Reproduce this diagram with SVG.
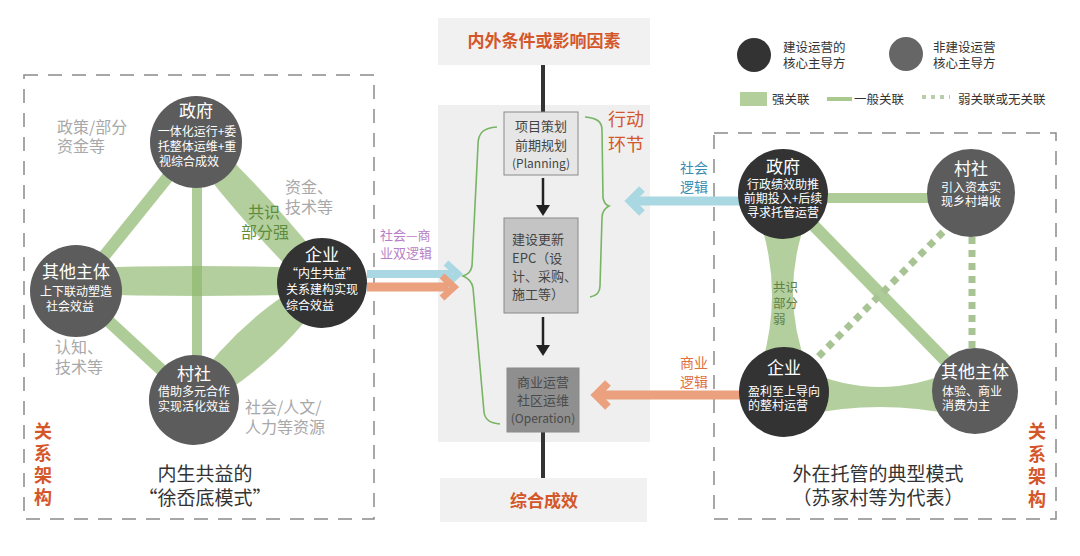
<svg xmlns="http://www.w3.org/2000/svg" width="1080" height="556" viewBox="0 0 1080 556">
<defs>
<style>
text{font-family:"Noto Sans CJK SC","Noto Sans",sans-serif;}
.dash{fill:none;stroke:#8a8a8a;stroke-width:1.5;stroke-dasharray:14 10;}
.gen{stroke:#8fb86f;stroke-opacity:0.72;fill:none;}
.str{fill:#8fb86f;fill-opacity:0.68;}
.dot{stroke:#a8c494;stroke-width:7;stroke-dasharray:7 6;fill:none;}
.dk{fill:#333;}
.gy{fill:#5c5c5c;}
.nt{fill:#fff;text-anchor:middle;font-size:12px;}
.t1{font-size:17px;}
.ann{fill:#a8a8a8;font-size:16px;}
.or{fill:#d4572a;font-weight:bold;}
.box{stroke:#8a8a8a;stroke-width:1;}
.bt{fill:#444;font-size:13px;text-anchor:middle;}
.brace{fill:none;stroke:#78b463;stroke-width:1.6;}
.leg{fill:#333;font-size:12.5px;}
</style>
</defs>
<rect width="1080" height="556" fill="#fff"/>

<!-- frames -->
<rect class="dash" x="24" y="75" width="350" height="444"/>
<rect class="dash" x="714" y="133" width="342" height="386"/>

<!-- middle column -->
<g id="mid-panel">
<rect x="438" y="18" width="212" height="47" fill="#f1f1f1"/>
<text class="or" x="544" y="47" font-size="17" text-anchor="middle">内外条件或影响因素</text>
<rect x="438" y="105" width="212" height="337" fill="#efefef"/>
<rect x="440" y="478" width="207" height="44" fill="#f1f1f1"/>
<text class="or" x="544" y="507" font-size="17" text-anchor="middle">综合成效</text>
<text font-size="18" fill="#d4572a"><tspan x="608" y="126">行动</tspan><tspan x="608" y="151">环节</tspan></text>
</g>

<g id="connectors">
<!-- middle flow -->
<line x1="543" y1="65" x2="543" y2="112" stroke="#333" stroke-width="4"/>
<line x1="543" y1="432" x2="543" y2="478" stroke="#333" stroke-width="4"/>
<line x1="543" y1="178" x2="543" y2="206" stroke="#222" stroke-width="2.5"/>
<polygon points="536,205 550,205 543,216" fill="#222"/>
<line x1="543" y1="317" x2="543" y2="346" stroke="#222" stroke-width="2.5"/>
<polygon points="536,345 550,345 543,356" fill="#222"/>
<path class="brace" d="M497,127 C484,128 478,132 478,145 L472,266 C471,272 468,274 463,276 C468,278 472,281 473,288 L484,412 C485,420 490,423 500,424"/>
<path class="brace" d="M585,117 C596,118 602,121 602,130 L603,198 C604,203 606,205 609,206 C605,208 602,211 602,218 L600,286 C600,293 596,296 590,297"/>

<!-- left relations -->
<line class="gen" x1="196" y1="142" x2="76" y2="291" stroke-width="12"/>
<line class="gen" x1="76" y1="291" x2="194" y2="400" stroke-width="12"/>
<line class="gen" x1="197" y1="142" x2="197" y2="400" stroke-width="10"/>
<path class="str" d="M187,150 Q244,225 312,292 L332,274 Q274,199 205,134 Z"/>
<path class="str" d="M76,268 Q198,264 322,268 L322,294 Q198,298 76,294 Z"/>
<path class="str" d="M187,393 Q238,319 315,276 L329,290 Q278,364 201,407 Z"/>

<!-- right relations -->
<line class="gen" x1="783" y1="198" x2="971" y2="198" stroke-width="10"/>
<line class="gen" x1="783" y1="194" x2="975" y2="391" stroke-width="12"/>
<line class="dot" x1="943" y1="232" x2="817" y2="358"/>
<line class="dot" x1="972" y1="237" x2="972" y2="350"/>
<path class="str" d="M758,215 Q785,292 760,370 L808,370 Q778,292 808,215 Z"/>
<path class="str" d="M805,370 Q880,404 955,370 L955,415 Q880,399 805,415 Z"/>

<!-- logic arrows -->
<line x1="367" y1="274" x2="452" y2="274" stroke="#a9d8e2" stroke-width="8"/>
<polyline points="446,263 458,274 446,285" fill="none" stroke="#a9d8e2" stroke-width="7"/>
<line x1="367" y1="287" x2="448" y2="287" stroke="#eba07e" stroke-width="9"/>
<polyline points="442,276 454,287 442,298" fill="none" stroke="#eba07e" stroke-width="7"/>
<line x1="740" y1="201" x2="634" y2="201" stroke="#a9d8e2" stroke-width="9"/>
<polyline points="642,189 630,201 642,213" fill="none" stroke="#a9d8e2" stroke-width="8"/>
<line x1="740" y1="395" x2="600" y2="395" stroke="#eba07e" stroke-width="9"/>
<polyline points="608,383 596,395 608,407" fill="none" stroke="#eba07e" stroke-width="8"/>
</g>

<!-- process boxes -->
<g id="box-planning">
<rect class="box" x="504" y="112" width="74" height="63" fill="#e6e6e6"/>
<text class="bt"><tspan x="541" y="131">项目策划</tspan><tspan x="541" y="150">前期规划</tspan><tspan x="541" y="168" font-size="12">(Planning)</tspan></text>
</g>
<g id="box-epc">
<rect class="box" x="504" y="218" width="74" height="95" fill="#c4c4c4"/>
<text fill="#444" font-size="13"><tspan x="512" y="244">建设更新</tspan><tspan x="512" y="263">EPC（设</tspan><tspan x="512" y="281">计、采购、</tspan><tspan x="512" y="299">施工等）</tspan></text>
</g>
<g id="box-operation">
<rect class="box" x="507" y="368" width="72" height="64" fill="#8f8f8f"/>
<text class="bt" fill="#4a4a4a" style="fill:#4a4a4a"><tspan x="543" y="387">商业运营</tspan><tspan x="543" y="405">社区运维</tspan><tspan x="543" y="423" font-size="12">(Operation)</tspan></text>
</g>

<!-- left nodes -->
<g id="L-gov">
<circle class="gy" cx="196" cy="142" r="46"/>
<text class="nt"><tspan class="t1" x="196" y="117">政府</tspan><tspan x="197" y="136">一体化运行+委</tspan><tspan x="197" y="151">托整体运维+重</tspan><tspan x="189" y="166">视综合成效</tspan></text>
</g>
<g id="L-other">
<circle class="gy" cx="76" cy="291" r="46"/>
<text class="nt"><tspan class="t1" x="76" y="278">其他主体</tspan><tspan x="76" y="296">上下联动塑造</tspan><tspan x="70" y="311">社会效益</tspan></text>
</g>
<g id="L-ent">
<circle class="dk" cx="322" cy="283" r="45"/>
<text class="nt"><tspan class="t1" x="322" y="261">企业</tspan><tspan x="322" y="278">“内生共益”</tspan><tspan x="322" y="294">关系建构实现</tspan><tspan x="310" y="310">综合效益</tspan></text>
</g>
<g id="L-village">
<circle class="gy" cx="194" cy="400" r="45"/>
<text class="nt"><tspan class="t1" x="194" y="380">村社</tspan><tspan x="194" y="396">借助多元合作</tspan><tspan x="194" y="411">实现活化效益</tspan></text>
</g>

<!-- left annotations -->
<g id="L-notes">
<text class="ann"><tspan x="57" y="133">政策/部分</tspan><tspan x="57" y="152">资金等</tspan></text>
<text class="ann"><tspan x="285" y="193">资金、</tspan><tspan x="285" y="213">技术等</tspan></text>
<text class="ann"><tspan x="55" y="353">认知、</tspan><tspan x="55" y="373">技术等</tspan></text>
<text class="ann"><tspan x="245" y="413">社会/人文/</tspan><tspan x="245" y="433">人力等资源</tspan></text>
<text font-size="16" fill="#5d8c3a"><tspan x="248" y="218">共识</tspan><tspan x="241" y="238">部分强</tspan></text>
<text font-size="13" fill="#b77fc7"><tspan x="380" y="240">社会—商</tspan><tspan x="380" y="258">业双逻辑</tspan></text>
<text class="or" font-size="18" text-anchor="middle"><tspan x="43" y="438">关</tspan><tspan x="43" y="460">系</tspan><tspan x="43" y="482">架</tspan><tspan x="43" y="504">构</tspan></text>
<text font-size="19" fill="#333" text-anchor="middle"><tspan x="205" y="481">内生共益的</tspan><tspan x="205" y="505">“徐岙底模式”</tspan></text>
</g>

<!-- right nodes -->
<g id="R-gov">
<circle class="dk" cx="783" cy="194" r="45"/>
<text class="nt"><tspan class="t1" x="783" y="173">政府</tspan><tspan x="783" y="189">行政绩效助推</tspan><tspan x="783" y="203">前期投入+后续</tspan><tspan x="783" y="217">寻求托管运营</tspan></text>
</g>
<g id="R-village">
<circle class="gy" cx="971" cy="193" r="44"/>
<text class="nt"><tspan class="t1" x="971" y="175">村社</tspan><tspan x="971" y="192">引入资本实</tspan><tspan x="971" y="206">现乡村增收</tspan></text>
</g>
<g id="R-ent">
<circle class="dk" cx="784" cy="392" r="45"/>
<text class="nt"><tspan class="t1" x="784" y="374">企业</tspan><tspan x="784" y="396">盈利至上导向</tspan><tspan x="778" y="410">的整村运营</tspan></text>
</g>
<g id="R-other">
<circle class="gy" cx="975" cy="391" r="43"/>
<text class="nt"><tspan class="t1" x="975" y="378">其他主体</tspan><tspan x="972" y="396">体验、商业</tspan><tspan x="966" y="410">消费为主</tspan></text>
</g>

<!-- right annotations -->
<g id="R-notes">
<text font-size="12.5" fill="#5f7f45"><tspan x="773" y="292">共识</tspan><tspan x="773" y="308">部分</tspan><tspan x="773" y="324">弱</tspan></text>
<text font-size="14" fill="#3b8bb0"><tspan x="680" y="173">社会</tspan><tspan x="680" y="192">逻辑</tspan></text>
<text font-size="14" fill="#e0703d"><tspan x="680" y="368">商业</tspan><tspan x="680" y="387">逻辑</tspan></text>
<text class="or" font-size="18" text-anchor="middle"><tspan x="1037" y="438">关</tspan><tspan x="1037" y="461">系</tspan><tspan x="1037" y="483">架</tspan><tspan x="1037" y="506">构</tspan></text>
<text font-size="19" fill="#333" text-anchor="middle"><tspan x="878" y="481">外在托管的典型模式</tspan><tspan x="878" y="505">（苏家村等为代表）</tspan></text>
</g>

<!-- legend -->
<g id="legend">
<circle cx="754" cy="55" r="17" fill="#333"/>
<text class="leg"><tspan x="783" y="52">建设运营的</tspan><tspan x="783" y="68">核心主导方</tspan></text>
<circle cx="906" cy="54" r="17" fill="#666"/>
<text class="leg"><tspan x="933" y="52">非建设运营</tspan><tspan x="933" y="68">核心主导方</tspan></text>
<rect x="740" y="92" width="27" height="14" fill="#b3cf9b"/>
<text class="leg" x="772" y="104">强关联</text>
<line x1="827" y1="99" x2="852" y2="99" stroke="#a9c98f" stroke-width="4"/>
<text class="leg" x="854" y="104">一般关联</text>
<line x1="922" y1="97" x2="950" y2="97" stroke="#b8ceaa" stroke-width="4" stroke-dasharray="4 5"/>
<text class="leg" x="958" y="104">弱关联或无关联</text>
</g>
</svg>
